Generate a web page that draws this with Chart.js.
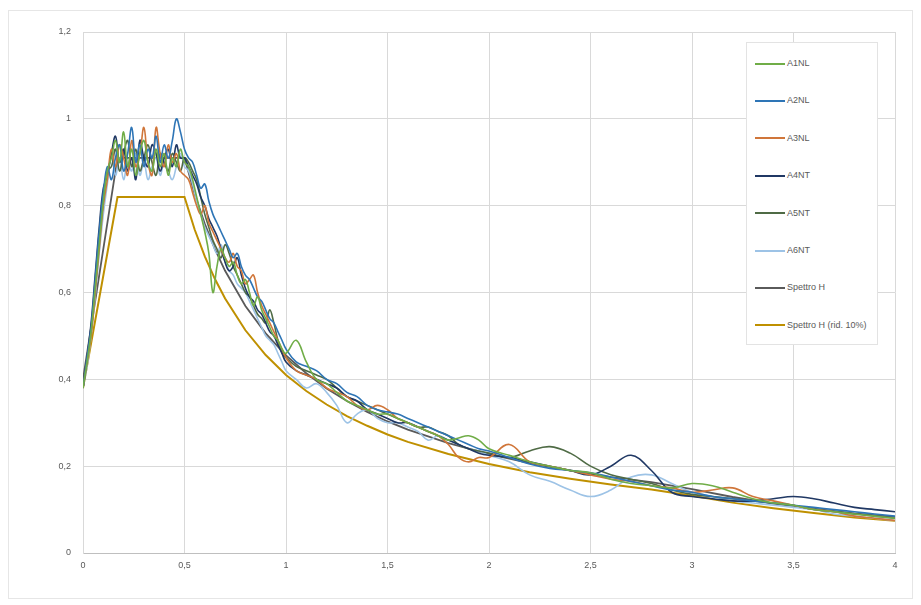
<!DOCTYPE html>
<html>
<head>
<meta charset="utf-8">
<script src="https://cdn.jsdelivr.net/npm/chart.js@4.4.1/dist/chart.umd.min.js"></script>
<style>
  html, body { margin: 0; padding: 0; background: #ffffff; }
  #wrap { position: relative; width: 921px; height: 605px; }
  #legend {
    position: absolute; left: 746px; top: 42px; width: 132px; height: 303px;
    background: #ffffff; border: 1px solid #e3e3e3; box-sizing: border-box;
    font-family: "Liberation Sans", Arial, sans-serif; font-size: 9px; color: #595959;
  }
  .item { position: absolute; left: 8px; height: 12px; line-height: 12px; white-space: nowrap; }
  .swatch { display: inline-block; width: 30px; height: 0; vertical-align: middle; margin-right: 2px; }
</style>
</head>
<body>
<div id="wrap">
  <canvas id="chart" width="921" height="605"></canvas>
  <div id="legend"></div>
</div>
<script>
// periods (s) of the recorded spectra
const periods = [
  0, 0.02, 0.04, 0.06, 0.08, 0.1, 0.12, 0.14, 0.16, 0.18,
  0.2, 0.22, 0.24, 0.26, 0.28, 0.3, 0.32, 0.34, 0.36, 0.38,
  0.4, 0.42, 0.44, 0.46, 0.48, 0.5, 0.52, 0.54, 0.56, 0.58,
  0.6, 0.62, 0.64, 0.66, 0.68, 0.7, 0.72, 0.74, 0.76, 0.78,
  0.8, 0.82, 0.84, 0.86, 0.88, 0.9, 0.92, 0.94, 0.96, 0.98,
  1.0, 1.05, 1.1, 1.15, 1.2, 1.25, 1.3, 1.35, 1.4, 1.45,
  1.5, 1.55, 1.6, 1.65, 1.7, 1.75, 1.8, 1.85, 1.9, 1.95,
  2.0, 2.1, 2.2, 2.3, 2.4, 2.5, 2.6, 2.7, 2.8, 2.9,
  3.0, 3.1, 3.2, 3.3, 3.4, 3.5, 3.6, 3.7, 3.8, 3.9,
  4.0
];

const a1 = [
  0.38, 0.44, 0.51, 0.61, 0.71, 0.81, 0.88, 0.91, 0.95, 0.90,
  0.97, 0.89, 0.93, 0.87, 0.92, 0.95, 0.90, 0.88, 0.93, 0.89,
  0.92, 0.87, 0.91, 0.89, 0.93, 0.90, 0.89, 0.86, 0.82, 0.78,
  0.74, 0.69, 0.60, 0.66, 0.70, 0.68, 0.66, 0.67, 0.64, 0.62,
  0.63, 0.60, 0.57, 0.59, 0.56, 0.54, 0.52, 0.50, 0.49, 0.47,
  0.46, 0.49, 0.44, 0.40, 0.39, 0.37, 0.35, 0.34, 0.33, 0.32,
  0.32, 0.31, 0.30, 0.29, 0.28, 0.27, 0.26, 0.265, 0.27, 0.26,
  0.24, 0.225, 0.21, 0.20, 0.19, 0.185, 0.17, 0.16, 0.155, 0.15,
  0.16, 0.155, 0.14, 0.125, 0.115, 0.11, 0.10, 0.095, 0.09, 0.085,
  0.08
];
const a2 = [
  0.38, 0.45, 0.52, 0.63, 0.74, 0.83, 0.89, 0.86, 0.91, 0.94,
  0.88, 0.92, 0.98, 0.90, 0.94, 0.89, 0.93, 0.91, 0.96, 0.90,
  0.94, 0.91, 0.95, 1.00, 0.97, 0.93, 0.91, 0.90, 0.87, 0.84,
  0.85, 0.81, 0.78, 0.76, 0.74, 0.72, 0.70, 0.68, 0.69, 0.66,
  0.64, 0.63, 0.61, 0.59, 0.58, 0.56, 0.54, 0.53, 0.51, 0.49,
  0.47, 0.44, 0.43, 0.42, 0.40, 0.39, 0.37, 0.36, 0.34, 0.33,
  0.325, 0.32, 0.31, 0.30, 0.29, 0.28, 0.27, 0.26, 0.25, 0.24,
  0.235, 0.22, 0.205, 0.195, 0.19, 0.185, 0.175, 0.165, 0.155, 0.145,
  0.14, 0.13, 0.125, 0.12, 0.115, 0.11, 0.105, 0.10, 0.095, 0.09,
  0.085
];
const a3 = [
  0.38, 0.44, 0.50, 0.60, 0.70, 0.80, 0.86, 0.93, 0.89, 0.94,
  0.91, 0.87, 0.95, 0.89, 0.92, 0.98, 0.90, 0.87, 0.98, 0.92,
  0.89, 0.94, 0.90, 0.92, 0.88, 0.87, 0.86, 0.83, 0.80, 0.78,
  0.80, 0.76, 0.74, 0.72, 0.70, 0.68, 0.67, 0.69, 0.66, 0.65,
  0.62, 0.63, 0.64, 0.60, 0.57, 0.55, 0.53, 0.51, 0.49, 0.47,
  0.45, 0.42, 0.41, 0.40, 0.38, 0.37, 0.36, 0.34, 0.33, 0.34,
  0.33, 0.31, 0.30, 0.29, 0.28, 0.27, 0.25, 0.22, 0.21, 0.22,
  0.22, 0.25, 0.21, 0.20, 0.19, 0.18, 0.17, 0.165, 0.155, 0.15,
  0.14, 0.145, 0.15, 0.13, 0.12, 0.11, 0.10, 0.095, 0.085, 0.08,
  0.075
];
const a4 = [
  0.38, 0.45, 0.53, 0.64, 0.75, 0.84, 0.87, 0.92, 0.96, 0.90,
  0.93, 0.88, 0.91, 0.86, 0.95, 0.91, 0.89, 0.94, 0.92, 0.88,
  0.91, 0.93, 0.89, 0.94, 0.91, 0.91, 0.89, 0.87, 0.85, 0.82,
  0.80, 0.77, 0.75, 0.73, 0.70, 0.67, 0.65, 0.66, 0.68, 0.64,
  0.61, 0.59, 0.58, 0.56, 0.55, 0.53, 0.51, 0.50, 0.48, 0.46,
  0.44, 0.42, 0.41, 0.40, 0.39, 0.38, 0.36, 0.35, 0.33, 0.32,
  0.31, 0.30, 0.30, 0.29, 0.28, 0.27, 0.26, 0.25, 0.24, 0.23,
  0.225, 0.22, 0.21, 0.20, 0.19, 0.18, 0.20, 0.225, 0.19, 0.14,
  0.13, 0.125, 0.12, 0.12, 0.125, 0.13, 0.125, 0.115, 0.105, 0.10,
  0.095
];
const a5 = [
  0.38, 0.44, 0.51, 0.61, 0.72, 0.81, 0.88, 0.89, 0.93, 0.88,
  0.92, 0.95, 0.89, 0.93, 0.88, 0.91, 0.94, 0.90, 0.87, 0.92,
  0.90, 0.88, 0.92, 0.90, 0.88, 0.91, 0.90, 0.88, 0.86, 0.82,
  0.78, 0.75, 0.72, 0.70, 0.68, 0.71, 0.69, 0.66, 0.64, 0.62,
  0.60, 0.59, 0.57, 0.55, 0.54, 0.53, 0.56, 0.53, 0.49, 0.46,
  0.45, 0.43, 0.42, 0.41, 0.40, 0.38, 0.36, 0.35, 0.34, 0.33,
  0.32, 0.31, 0.30, 0.29, 0.29, 0.28, 0.27, 0.25, 0.24, 0.235,
  0.23, 0.22, 0.235, 0.245, 0.23, 0.20, 0.18, 0.17, 0.16, 0.145,
  0.135, 0.13, 0.125, 0.12, 0.115, 0.11, 0.10, 0.095, 0.09, 0.085,
  0.08
];
const a6 = [
  0.38, 0.43, 0.50, 0.59, 0.69, 0.78, 0.85, 0.92, 0.87, 0.91,
  0.86, 0.90, 0.88, 0.92, 0.87, 0.90, 0.86, 0.89, 0.91, 0.87,
  0.90, 0.88, 0.86, 0.89, 0.92, 0.89, 0.88, 0.85, 0.81, 0.78,
  0.75, 0.73, 0.71, 0.69, 0.71, 0.67, 0.65, 0.64, 0.62, 0.61,
  0.60, 0.58, 0.56, 0.54, 0.52, 0.50, 0.49, 0.48, 0.46, 0.44,
  0.42, 0.40, 0.38, 0.39, 0.37, 0.34, 0.30, 0.32, 0.33, 0.31,
  0.30, 0.30, 0.29, 0.28, 0.26, 0.27, 0.26, 0.25, 0.24, 0.235,
  0.225, 0.21, 0.18, 0.165, 0.145, 0.13, 0.145, 0.175, 0.18, 0.16,
  0.14, 0.13, 0.12, 0.115, 0.11, 0.105, 0.10, 0.09, 0.085, 0.08,
  0.075
];

// design spectra
const specPeriods = [0, 0.17, 0.5, 0.55, 0.6, 0.65, 0.7, 0.8, 0.9, 1.0, 1.1, 1.2, 1.3, 1.4,
  1.5, 1.6, 1.8, 2.0, 2.2, 2.4, 2.6, 2.8, 3.0, 3.2, 3.4, 3.6, 3.8, 4.0];
const spettroH = [0.40, 0.91, 0.91, 0.827, 0.758, 0.70, 0.65, 0.569, 0.506, 0.455, 0.414, 0.379, 0.35, 0.325,
  0.303, 0.284, 0.253, 0.228, 0.207, 0.19, 0.175, 0.163, 0.147, 0.129, 0.114, 0.102, 0.091, 0.083];
const spettroRid = [0.38, 0.82, 0.82, 0.745, 0.683, 0.631, 0.586, 0.513, 0.456, 0.41, 0.373, 0.342, 0.315, 0.293,
  0.273, 0.256, 0.228, 0.205, 0.186, 0.171, 0.158, 0.146, 0.132, 0.116, 0.103, 0.092, 0.082, 0.074];

const seriesNames = ['A1NL', 'A2NL', 'A3NL', 'A4NT', 'A5NT', 'A6NT', 'Spettro H', 'Spettro H (rid. 10%)'];
const seriesColors = ['#70AD47', '#2E75B6', '#D0763A', '#203864', '#4F6B45', '#9DC3E6', '#5A5A5A', '#BF9000'];

const xTicks = [0, 0.5, 1, 1.5, 2, 2.5, 3, 3.5, 4];

function pairs(xs, ys) {
  return xs.map((x, i) => ({x: x, y: ys[i]}));
}

const records = [a1, a2, a3, a4, a5, a6];
const datasets = records.map((ys, i) => ({
  label: seriesNames[i],
  data: pairs(periods, ys),
  borderColor: seriesColors[i],
  borderWidth: 1.6,
  pointRadius: 0,
  tension: 0.4,
  fill: false
}));
datasets.push({
  label: seriesNames[6], data: pairs(specPeriods, spettroH),
  borderColor: seriesColors[6], borderWidth: 1.8, pointRadius: 0, tension: 0, fill: false
});
datasets.push({
  label: seriesNames[7], data: pairs(specPeriods, spettroRid),
  borderColor: seriesColors[7], borderWidth: 2, pointRadius: 0, tension: 0, fill: false
});

const frame = {
  id: 'frame',
  beforeDraw(c) {
    const ctx = c.ctx;
    ctx.save();
    ctx.fillStyle = '#ffffff';
    ctx.fillRect(0, 0, c.width, c.height);
    ctx.strokeStyle = '#e6e6e6';
    ctx.lineWidth = 1;
    ctx.strokeRect(8.5, 10.5, 904, 588);
    ctx.restore();
  }
};

const fmt = v => String(v).replace('.', ',');

const ctx = document.getElementById('chart').getContext('2d');
const chart = new Chart(ctx, {
  type: 'line',
  data: {datasets: datasets},
  plugins: [frame],
  options: {
    responsive: false,
    animation: false,
    layout: {padding: {left: 30, top: 32, right: 26, bottom: 0}},
    scales: {
      x: {
        type: 'linear', min: 0, max: 4,
        afterBuildTicks: s => { s.ticks = xTicks.map(v => ({value: v})); },
        afterFit: s => { s.height = 52; },
        grid: {color: '#d9d9d9', drawTicks: false},
        border: {color: '#bfbfbf'},
        ticks: {padding: 7, color: '#595959', font: {family: 'Liberation Sans', size: 9}, callback: v => fmt(v)}
      },
      y: {
        min: 0, max: 1.2,
        afterFit: s => { s.width = 53; },
        grid: {color: '#d9d9d9', drawTicks: false},
        border: {color: '#d9d9d9'},
        ticks: {stepSize: 0.2, padding: 12, color: '#595959', font: {family: 'Liberation Sans', size: 9},
          callback: v => fmt(Math.round(v * 10) / 10)}
      }
    },
    plugins: {legend: {display: false}, tooltip: {enabled: false}}
  }
});

// legend box inside the plot, as in the source spreadsheet chart
const legend = document.getElementById('legend');
seriesNames.forEach((name, i) => {
  const row = document.createElement('div');
  row.className = 'item';
  row.style.top = (14 + i * 37.4) + 'px';
  const sw = document.createElement('span');
  sw.className = 'swatch';
  sw.style.borderTop = '2px solid ' + seriesColors[i];
  row.appendChild(sw);
  row.appendChild(document.createTextNode(name));
  legend.appendChild(row);
});
</script>
</body>
</html>
